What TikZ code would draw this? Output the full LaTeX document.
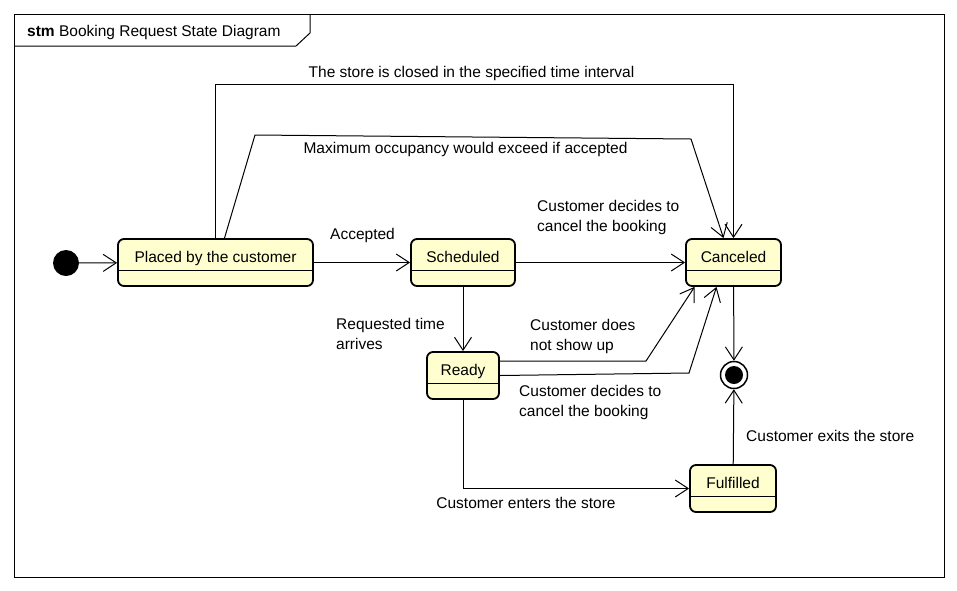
\documentclass[tikz,border=0pt]{standalone}
\usepackage{fontspec}
\setmainfont{Liberation Sans}
\usepackage{xcolor}
\usetikzlibrary{arrows.meta}

\definecolor{stfill}{HTML}{FEFECE}

\begin{document}
\begin{tikzpicture}[x=1pt,y=-1pt,
	stbox/.style={draw,fill=stfill,line width=1.8pt,rounded corners=6pt,minimum height=47pt,text height=10pt,text depth=10.6pt,inner xsep=0pt,font=\fontsize{15.5}{20}\selectfont},
	lbl/.style={inner sep=0pt,align=left,font=\fontsize{15.5}{20}\selectfont},
	>={Straight Barb[length=13pt,width=17pt]}]
		\useasboundingbox (0,0) rectangle (957,590);
		\fill[white] (0,0) rectangle (957,590);
		%
		\draw[line width=1pt] (14,14) rectangle (944,577);
		\draw[line width=1pt] (14,46) -- (296,46) -- (310,33) -- (310,14);
		\node[lbl,anchor=west] (T) at (27,32) {\textbf{stm} Booking Request State Diagram};
		%
		\node[circle,fill=black,minimum size=26pt,inner sep=0pt] (I) at (66,263) {};
		\node[stbox,minimum width=195pt] (P) at (215.5,262.5) {Placed by the customer};
		\node[stbox,minimum width=104pt] (S) at (463,262.5) {Scheduled};
		\node[stbox,minimum width=95pt] (C) at (733.5,262.5) {Canceled};
		\node[stbox,minimum width=72pt] (R) at (463,375.5) {Ready};
		\node[stbox,minimum width=86pt] (F) at (733,488.5) {Fulfilled};
		\node[circle,draw,line width=1.5pt,fill=white,minimum size=27pt,inner sep=0pt] (E) at (734,375) {};
		\fill (E.center) circle (9pt);
		\foreach \n in {P,S,C,R,F}
			\draw[line width=1pt] ([yshift=-7.5pt]\n.west) -- ([yshift=-7.5pt]\n.east);
		%
		\path[->,line width=1pt]
		(I) edge (P)
		(P) edge (S)
		(S) edge (C)
		(S) edge (R)
		(C) edge (E)
		(F) edge (E);
		\draw[->,line width=1pt] (P.north) -- ++(0,-154) -| (C.north);
		\draw[->,line width=1pt] ([xshift=9pt]P.north) -- (255,135) -- (691,139) -- ([xshift=-10pt]C.north);
		\draw[->,line width=1pt] ([yshift=14.5pt]R.east) -- (646,361) -- ([xshift=-39pt]C.south);
		\draw[->,line width=1pt] (R.east) -- (689,373) -- ([xshift=-17pt]C.south);
		\draw[->,line width=1pt] (R.south) |- (F.west);
		%
		\node[lbl] (L1) at (471.5,73.5) {The store is closed in the specified time interval};
		\node[lbl] (L2) at (465.5,149.5) {Maximum occupancy would exceed if accepted};
		\node[lbl,anchor=west] (L3) at (330,235.5) {Accepted};
		\node[lbl,anchor=west] (L4) at (537,217.5) {Customer decides to\\cancel the booking};
		\node[lbl,anchor=west] (L5) at (336,333.5) {Requested time\\arrives};
		\node[lbl,anchor=west] (L6) at (530,336.5) {Customer does\\not show up};
		\node[lbl,anchor=west] (L7) at (519,402.5) {Customer decides to\\cancel the booking};
		\node[lbl,anchor=west] (L8) at (746,435.5) {Customer exits the store};
		\node[lbl] (L9) at (526,502.5) {Customer enters the store};
\end{tikzpicture}
\end{document}
